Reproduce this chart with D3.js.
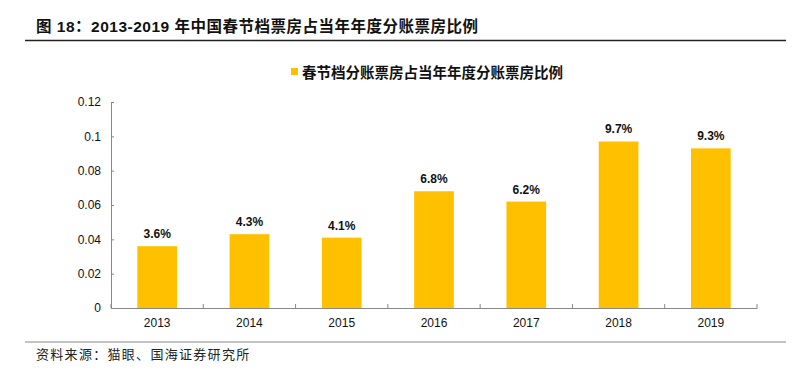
<!DOCTYPE html>
<html><head><meta charset="utf-8">
<script src="https://cdn.jsdelivr.net/npm/d3@7"></script>
<style>body{margin:0;background:#fff}svg{display:block}</style>
</head><body>
<script>
const categories = ["2013","2014","2015","2016","2017","2018","2019"];
const values = [0.036, 0.043, 0.041, 0.068, 0.062, 0.097, 0.093];
const labels = ["3.6%","4.3%","4.1%","6.8%","6.2%","9.7%","9.3%"];
const yTicks = [0, 0.02, 0.04, 0.06, 0.08, 0.1, 0.12];
const yTickLabels = ["0","0.02","0.04","0.06","0.08","0.1","0.12"];
const titleText = "图 18：2013-2019 年中国春节档票房占当年年度分账票房比例";
const legendText = "春节档分账票房占当年年度分账票房比例";
const sourceText = "资料来源：猫眼、国海证券研究所";

const W = 797, H = 377;
const svg = d3.select("body").append("svg").attr("width", W).attr("height", H);
const cjk = "'Liberation Sans', Arial, 'Noto Sans CJK SC', sans-serif";

// title
svg.append("text").attr("x", 36).attr("y", 32)
  .attr("font-family", cjk).attr("font-weight", "bold").attr("font-size", 15.5)
  .attr("letter-spacing", 0.5)
  .attr("fill", "#111").text(titleText);
svg.append("line").attr("x1", 25).attr("x2", 786).attr("y1", 40.5).attr("y2", 40.5)
  .attr("stroke", "#222").attr("stroke-width", 1.3);

// scales
const x = d3.scaleBand().domain(categories).range([111, 757]).paddingInner(0.57).paddingOuter(0.285);
const y = d3.scaleLinear().domain([0, 0.12]).range([308, 102]);

// legend
svg.append("rect").attr("x", 291).attr("y", 68).attr("width", 7).attr("height", 7).attr("fill", "#FFC000");
svg.append("text").attr("x", 302).attr("y", 78)
  .attr("font-family", cjk).attr("font-weight", "bold").attr("font-size", 14.5)
  .attr("fill", "#111").text(legendText);

// bars
svg.selectAll("rect.bar").data(values).enter().append("rect").attr("class", "bar")
  .attr("x", (d, i) => x(categories[i])).attr("width", x.bandwidth())
  .attr("y", d => y(d)).attr("height", d => y(0) - y(d)).attr("fill", "#FFC000");

// data labels
svg.selectAll("text.lbl").data(values).enter().append("text").attr("class", "lbl")
  .attr("x", (d, i) => x(categories[i]) + x.bandwidth() / 2).attr("y", d => y(d) - 8)
  .attr("text-anchor", "middle").attr("font-family", "'Liberation Sans', Arial, sans-serif")
  .attr("font-weight", "bold").attr("font-size", 12).attr("fill", "#111")
  .text((d, i) => labels[i]);

// y axis
const yAxis = d3.axisRight(y).tickValues(yTicks).tickSize(3).tickFormat((d, i) => yTickLabels[i]);
const gy = svg.append("g").attr("transform", "translate(111,0)").call(yAxis);
gy.select(".domain").attr("stroke", "#888");
gy.selectAll(".tick line").attr("stroke", "#888");
gy.selectAll(".tick text").attr("x", -10).attr("text-anchor", "end")
  .attr("font-family", "'Liberation Sans', Arial, sans-serif").attr("font-size", 12).attr("fill", "#111");

// x axis
const xAxis = d3.axisBottom(x).tickSize(0).tickSizeOuter(0);
const gx = svg.append("g").attr("transform", "translate(0,308)").call(xAxis);
gx.select(".domain").attr("stroke", "#888");
gx.selectAll(".tick text").attr("y", 10).attr("dy", "0.71em")
  .attr("font-family", "'Liberation Sans', Arial, sans-serif").attr("font-size", 12).attr("fill", "#111");
// category boundary ticks (inside)
const bounds = d3.range(categories.length + 1).map(i => 111 + i * (646 / categories.length));
svg.selectAll("line.bt").data(bounds).enter().append("line").attr("class", "bt")
  .attr("x1", d => d).attr("x2", d => d).attr("y1", 308).attr("y2", 304)
  .attr("stroke", "#888");

// footer
svg.append("line").attr("x1", 25).attr("x2", 786).attr("y1", 342).attr("y2", 342)
  .attr("stroke", "#888").attr("stroke-width", 1);
svg.append("text").attr("x", 36).attr("y", 359)
  .attr("font-family", "'Noto Sans CJK SC', sans-serif").attr("font-size", 13)
  .attr("letter-spacing", 1.3)
  .attr("fill", "#222").text(sourceText);
</script>
</body></html>
